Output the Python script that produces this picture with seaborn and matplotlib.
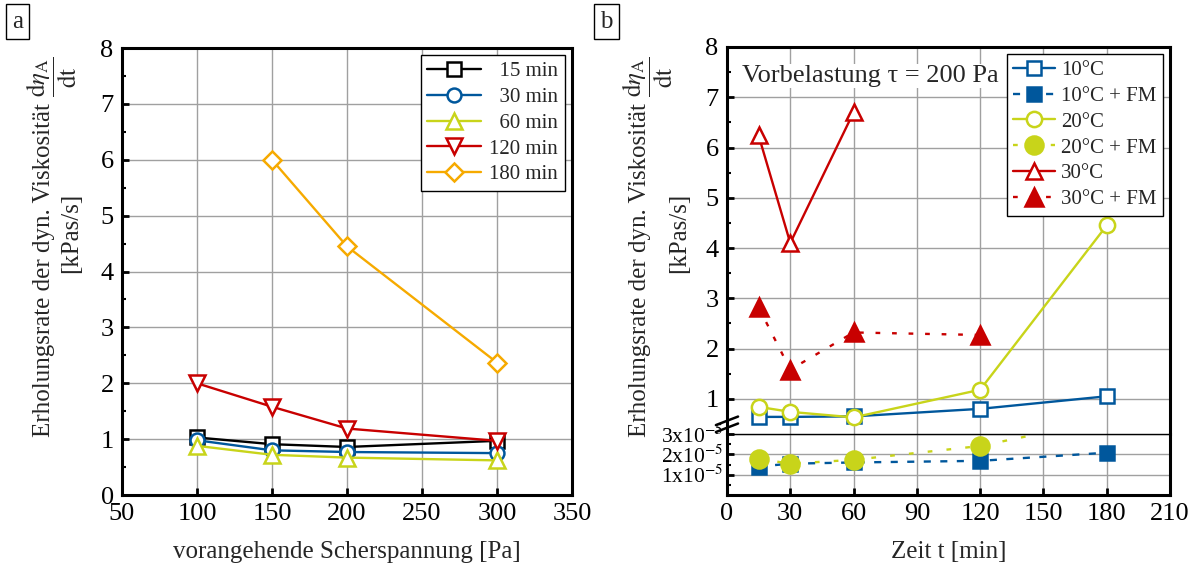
import matplotlib
matplotlib.use("Agg")
import matplotlib.pyplot as plt
from matplotlib.ticker import MultipleLocator, FixedLocator
import seaborn as sns
import pandas as pd

# ---- Daten Panel a ----
scherspannung = [100, 150, 200, 300]
a_15min = [1.03, 0.91, 0.86, 0.97]
a_30min = [0.98, 0.80, 0.77, 0.75]
a_60min = [0.88, 0.72, 0.67, 0.62]
a_120min = [2.00, 1.58, 1.19, 0.97]
a_180min_x = [150, 200, 300]
a_180min = [6.00, 4.45, 2.37]

# ---- Daten Panel b ----
zeit = [15, 30, 60, 120, 180]
b_10C = [0.64, 0.64, 0.65, 0.80, 1.05]
b_10C_FM = [1.40e-5, 1.54e-5, 1.60e-5, 1.68e-5, 2.08e-5]
b_20C = [0.84, 0.74, 0.63, 1.18, 4.45]
b_20C_FM = [1.78e-5, 1.54e-5, 1.73e-5, 2.41e-5, 3.70e-5]
zeit_30C = [15, 30, 60]
b_30C = [6.24, 4.10, 6.70]
zeit_30C_FM = [15, 30, 60, 120]
b_30C_FM = [2.82, 1.58, 2.32, 2.27]

BLACK = '#000000'
BLUE = '#00579c'
YELLOW = '#c8d41a'
RED = '#c80000'
ORANGE = '#f6aa00'

sns.set_theme(style="white")
plt.rcParams['font.family'] = ['Liberation Serif', 'DejaVu Serif']
plt.rcParams['mathtext.fontset'] = 'stix'
plt.rcParams.update({
    'axes.linewidth': 2.2,
    'axes.edgecolor': 'black',
    'xtick.direction': 'in',
    'ytick.direction': 'in',
    'xtick.major.size': 5,
    'ytick.major.size': 5,
    'ytick.minor.size': 3,
    'xtick.major.width': 2,
    'ytick.major.width': 2,
    'ytick.minor.width': 1.5,
    'xtick.labelsize': 19,
    'ytick.labelsize': 19,
    'xtick.color': 'black',
    'ytick.color': 'black',
    'xtick.major.pad': 6,
    'ytick.major.pad': 6,
})

GRID = dict(color='#a0a0a0', linewidth=1.0)

W, H = 1203, 569
fig = plt.figure(figsize=(W / 100, H / 100), dpi=100)


def linie(ax, x, y, farbe, marker, label, gefuellt=False, ls='-', ms=10):
    df = pd.DataFrame({'x': x, 'y': y})
    sns.lineplot(data=df, x='x', y='y', ax=ax, color=farbe, marker=marker,
                 markersize=ms, markeredgewidth=1.8, markeredgecolor=farbe,
                 markerfacecolor=farbe if gefuellt else 'white',
                 linewidth=1.7, linestyle=ls, label=label)


def stil(ax):
    ax.grid(True, **GRID)
    ax.set_axisbelow(True)
    ax.tick_params(which='both', left=True, bottom=True, right=False, top=False)
    ax.set_xlabel('')
    ax.set_ylabel('')


# =========== Panel a ===========
ax_a = fig.add_axes([0.1014, 0.130, 0.3741, 0.7856])
linie(ax_a, scherspannung, a_15min, BLACK, 's', '  15 min')
linie(ax_a, scherspannung, a_30min, BLUE, 'o', '  30 min')
linie(ax_a, scherspannung, a_60min, YELLOW, '^', '  60 min', ms=11)
linie(ax_a, scherspannung, a_120min, RED, 'v', '120 min', ms=11)
linie(ax_a, a_180min_x, a_180min, ORANGE, 'D', '180 min', ms=9)
ax_a.set_xlim(50, 350)
ax_a.set_ylim(0, 8)
ax_a.xaxis.set_major_locator(MultipleLocator(50))
ax_a.yaxis.set_major_locator(MultipleLocator(1))
ax_a.yaxis.set_minor_locator(MultipleLocator(0.5))
stil(ax_a)
ax_a.set_xlabel('vorangehende Scherspannung [Pa]', fontsize=18, labelpad=11)
leg = ax_a.legend(loc='upper right', fontsize=15, frameon=True, fancybox=False,
                  edgecolor='black', framealpha=1, handlelength=2.6,
                  borderaxespad=0.35, labelspacing=0.3, borderpad=0.3,
                  handletextpad=0.4)
leg.get_frame().set_linewidth(1.0)

# =========== Panel b (gebrochene Achse) ===========
ax_o = fig.add_axes([0.6043, 0.2373, 0.3683, 0.6801])
ax_u = fig.add_axes([0.6043, 0.130, 0.3683, 0.1073], sharex=ax_o)

linie(ax_o, zeit, b_10C, BLUE, 's', '10°C')
linie(ax_u, zeit, b_10C_FM, BLUE, 's', '10°C + FM', gefuellt=True, ls=(0, (3, 4)))
linie(ax_o, zeit, b_20C, YELLOW, 'o', '20°C', ms=11)
linie(ax_u, zeit, b_20C_FM, YELLOW, 'o', '20°C + FM', gefuellt=True, ls=(0, (2, 6)), ms=13)
linie(ax_o, zeit_30C, b_30C, RED, '^', '30°C', ms=12)
linie(ax_o, zeit_30C_FM, b_30C_FM, RED, '^', '30°C + FM', gefuellt=True, ls=(0, (2, 5)), ms=13)
ax_u.get_legend().remove()

ax_o.set_ylim(0.3, 8)
ax_o.yaxis.set_major_locator(FixedLocator([1, 2, 3, 4, 5, 6, 7, 8]))
ax_o.yaxis.set_minor_locator(FixedLocator([1.5, 2.5, 3.5, 4.5, 5.5, 6.5, 7.5]))
ax_u.set_ylim(0, 3e-5)
ax_u.yaxis.set_major_locator(FixedLocator([1e-5, 2e-5, 3e-5]))
ax_u.yaxis.set_minor_locator(FixedLocator([0.5e-5, 1.5e-5, 2.5e-5]))
ax_u.set_yticklabels([r'1x10$^{-5}$', r'2x10$^{-5}$', r'3x10$^{-5}$'], fontsize=15.5)
ax_u.tick_params(axis='y', pad=3)
ax_o.set_xlim(0, 210)
ax_o.xaxis.set_major_locator(MultipleLocator(30))
stil(ax_o)
stil(ax_u)
ax_o.tick_params(axis='x', which='both', bottom=False, labelbottom=False)
ax_o.spines['bottom'].set_visible(False)
ax_u.spines['top'].set_linewidth(1.0)
ax_u.set_xlabel('Zeit t [min]', fontsize=18, labelpad=11)

# Bruchzeichen an der y-Achse
for dy in (0.016, 0.034):
    ax_o.plot([-0.025, 0.025], [dy - 0.011, dy + 0.011], transform=ax_o.transAxes,
              color='black', linewidth=1.8, clip_on=False)

# Legende aus beiden Achsen
h1, l1 = ax_o.get_legend_handles_labels()
h2, l2 = ax_u.get_legend_handles_labels()
reihenfolge = ['10°C', '10°C + FM', '20°C', '20°C + FM', '30°C', '30°C + FM']
alle = dict(zip(l1 + l2, h1 + h2))
leg_b = ax_o.legend([alle[k] for k in reihenfolge], reihenfolge, loc='upper right',
                    fontsize=15, frameon=True, fancybox=False, edgecolor='black',
                    framealpha=1, handlelength=2.0, borderaxespad=0.35,
                    labelspacing=0.3, borderpad=0.3, handletextpad=0.3)
leg_b.get_frame().set_linewidth(1.0)

ax_o.text(0.035, 0.925, 'Vorbelastung τ = 200 Pa', transform=ax_o.transAxes,
          fontsize=19, ha='left', va='center',
          bbox=dict(facecolor='white', edgecolor='none', pad=1))

# y-Achsenbeschriftungen: Zeile 1 (Text + Bruch), Zeile 2 (Einheit)
zeile1 = 'Erholungsrate der dyn. Viskosität'
bruch = r'$\dfrac{\mathrm{d}\eta_\mathrm{A}}{\mathrm{dt}}$'
zeile2 = '[kPas/s]'
renderer = fig.canvas.get_renderer()
for x1, x2 in ((44, 71), (640, 679)):
    t1 = fig.text(x1 / W, 1 - 437 / H, zeile1, rotation=90, ha='center',
                  va='bottom', fontsize=18)
    oben = t1.get_window_extent(renderer).y1
    fig.text((x1 + 8) / W, (oben + 6) / H, bruch, rotation=90, ha='center',
             va='bottom', fontsize=18)
    fig.text(x2 / W, 1 - 233 / H, zeile2, rotation=90, ha='center',
             va='center', fontsize=18)

# Panelbuchstaben
for x, t in ((0.010, 'a'), (0.499, 'b')):
    fig.text(x, 0.962, t, fontsize=18, ha='left', va='center',
             bbox=dict(boxstyle='square,pad=0.25', facecolor='white',
                       edgecolor='black', linewidth=1.0))

fig.savefig('out.png', dpi=100)
